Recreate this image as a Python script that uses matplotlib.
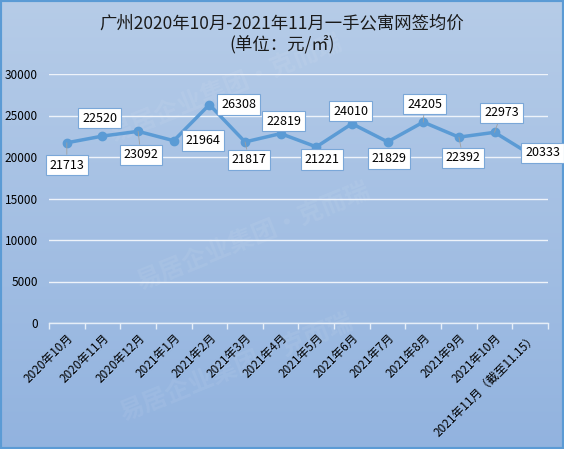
import matplotlib
matplotlib.use("Agg")
import matplotlib.pyplot as plt
import numpy as np
from matplotlib.colors import LinearSegmentedColormap
from matplotlib.patches import Rectangle

plt.rcParams['font.family'] = ['Noto Sans CJK SC', 'DejaVu Sans']

categories = ["2020年10月", "2020年11月", "2020年12月", "2021年1月", "2021年2月",
              "2021年3月", "2021年4月", "2021年5月", "2021年6月", "2021年7月",
              "2021年8月", "2021年9月", "2021年10月", "2021年11月（截至11.15）"]
values = [21713, 22520, 23092, 21964, 26308, 21817, 22819, 21221, 24010, 21829,
          24205, 22392, 22973, 20333]
yticks = [0, 5000, 10000, 15000, 20000, 25000, 30000]
title = "广州2020年10月-2021年11月一手公寓网签均价\n(单位：元/㎡)"

# label offsets in points (dx, dy) and whether a leader line is drawn
offsets = [(0, -16), (-2, 13), (2, -17), (21, 0), (21, 0), (3, -13), (2, 9),
           (4, -9), (-1, 9), (1, -12), (1, 13), (3, -15), (5, 14), (9, 1)]
leaders = [True, False, True, False, False, True, False, False, False, False,
           True, True, True, False]

W, H = 564, 449
fig = plt.figure(figsize=(W / 100, H / 100), dpi=100)

# gradient background
bg = fig.add_axes([0, 0, 1, 1], zorder=0)
cmap = LinearSegmentedColormap.from_list("bg", ["#b6cce8", "#92b3df"])
grad = np.linspace(0, 1, 256).reshape(-1, 1)
bg.imshow(grad, aspect='auto', cmap=cmap, extent=[0, 1, 0, 1], origin='upper')
bg.add_patch(Rectangle((0, 0), 1, 1, transform=bg.transAxes, fill=False,
                       edgecolor="#5b9bd5", linewidth=3))
bg.set_xlim(0, 1); bg.set_ylim(0, 1)
bg.axis('off')

# faint watermarks
for (x, y) in [(0.40, 0.80), (0.45, 0.47), (0.42, 0.18)]:
    bg.text(x, y, "易居企业集团·克而瑞", fontsize=18, color="white", alpha=0.07,
            rotation=22, ha='center', va='center', fontweight='bold')

ax = fig.add_axes([49 / W, 1 - 323 / H, (548 - 49) / W, (323 - 74) / H], zorder=1)
ax.patch.set_alpha(0)

x = np.arange(len(categories))
ax.plot(x, values, color="#5b9bd5", linewidth=2.5, marker='o', markersize=6,
        solid_joinstyle='miter', zorder=3)

for xi, v, (dx, dy), ld in zip(x, values, offsets, leaders):
    ax.annotate(f"{v}", xy=(xi, v), xytext=(dx, dy), textcoords='offset points',
                ha='center', va='center', fontsize=9, color='black',
                bbox=dict(boxstyle='square,pad=0.3', fc='white', ec='#7aa7d8', lw=0.8),
                arrowprops=(dict(arrowstyle='-', color='#a0a0a0', lw=0.6,
                                 shrinkA=0, shrinkB=0) if ld else None),
                zorder=5)

ax.set_xlim(-0.5, len(categories) - 0.5)
ax.set_ylim(0, 30000)
ax.set_yticks(yticks)
ax.set_yticklabels([str(t) for t in yticks], fontsize=8.5)
ax.yaxis.grid(True, color='#eef3fa', linewidth=1)
ax.set_axisbelow(True)
ax.tick_params(axis='y', length=0, pad=8)

ax.set_xticks(x)
ax.set_xticklabels(categories, rotation=45, ha='right', rotation_mode='anchor', fontsize=8.5)
ax.tick_params(axis='x', length=0, pad=6)
ax.set_xticks(np.arange(-0.5, len(categories), 1), minor=True)
ax.tick_params(axis='x', which='minor', length=4, color='#e6eef8', width=1)

for s in ['top', 'right', 'left']:
    ax.spines[s].set_visible(False)
ax.spines['bottom'].set_color('#e6eef8')
ax.spines['bottom'].set_linewidth(1)

fig.text(0.5, 1 - 34 / H, title, ha='center', va='center', fontsize=12.5,
         color='#1a1a1a', linespacing=1.15)

fig.savefig("out.png", dpi=100)
